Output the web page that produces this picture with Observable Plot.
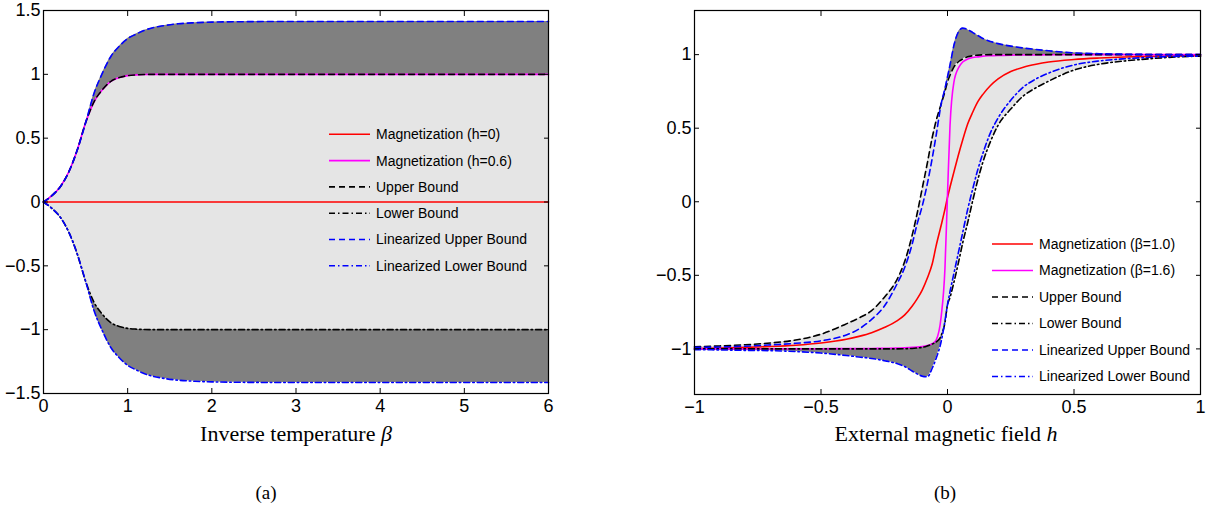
<!DOCTYPE html>
<html><head><meta charset="utf-8">
<script src="https://cdn.jsdelivr.net/npm/d3@7"></script>
<script src="https://cdn.jsdelivr.net/npm/@observablehq/plot@0.6"></script>
<style>
body{margin:0;background:#fff;}
#wrap{position:relative;width:1214px;height:514px;overflow:hidden;background:#fff;}
#wrap > svg{position:absolute;}
</style></head><body><div id="wrap"></div>
<script>
// ---------- Panel (a): versus inverse temperature beta ----------
const betaGrid = [0, 0.1, 0.2, 0.3, 0.4, 0.5, 0.6, 0.7, 0.8, 0.9, 1.0, 1.1, 1.2, 1.3, 1.4, 1.6, 1.8, 2.0, 2.5, 3, 4, 5, 6];
const magnetizationH0 = [0, 0, 0, 0, 0, 0, 0, 0, 0, 0, 0, 0, 0, 0, 0, 0, 0, 0, 0, 0, 0, 0, 0];
const magnetizationH06 = [0, 0.05, 0.12, 0.235, 0.405, 0.62, 0.785, 0.88, 0.945, 0.975, 0.99, 0.996, 0.999, 1, 1, 1, 1, 1, 1, 1, 1, 1, 1];
const upperBoundA = [0, 0.05, 0.12, 0.235, 0.405, 0.62, 0.785, 0.88, 0.945, 0.975, 0.99, 0.996, 0.999, 1, 1, 1, 1, 1, 1, 1, 1, 1, 1];
const lowerBoundA = [0, -0.05, -0.12, -0.235, -0.405, -0.62, -0.785, -0.88, -0.945, -0.975, -0.99, -0.996, -0.999, -1, -1, -1, -1, -1, -1, -1, -1, -1, -1];
const linUpperBoundA = [0, 0.05, 0.12, 0.235, 0.405, 0.62, 0.85, 1.01, 1.14, 1.22, 1.28, 1.315, 1.345, 1.365, 1.378, 1.396, 1.404, 1.409, 1.413, 1.414, 1.414, 1.414, 1.414];
const linLowerBoundA = [0, -0.05, -0.12, -0.235, -0.405, -0.62, -0.85, -1.01, -1.14, -1.22, -1.28, -1.315, -1.345, -1.365, -1.378, -1.396, -1.404, -1.409, -1.413, -1.414, -1.414, -1.414, -1.414];
const xTicksA = [0, 1, 2, 3, 4, 5, 6];
const yTicksA = [-1.5, -1, -0.5, 0, 0.5, 1, 1.5];
const legendLabelsA = ["Magnetization (h=0)", "Magnetization (h=0.6)", "Upper Bound", "Lower Bound", "Linearized Upper Bound", "Linearized Lower Bound"];

// ---------- Panel (b): versus external magnetic field h ----------
const hGrid = [-1, -0.9, -0.8, -0.7, -0.6, -0.5, -0.4, -0.35, -0.3, -0.25,
  -0.2, -0.17, -0.14, -0.12, -0.1, -0.08, -0.06, -0.045, -0.025, -0.01,
  0, 0.01, 0.025, 0.045, 0.06, 0.08, 0.1, 0.12, 0.14, 0.17,
  0.2, 0.25, 0.3, 0.35, 0.4, 0.5, 0.6, 0.7, 0.8, 0.9,
  1];
const magnetizationB10 = [-0.998, -0.995, -0.99, -0.984, -0.975, -0.96, -0.935, -0.915, -0.89, -0.855,
  -0.81, -0.77, -0.71, -0.66, -0.60, -0.52, -0.42, -0.30, -0.16, -0.05,
  0.03, 0.10, 0.20, 0.33, 0.42, 0.53, 0.61, 0.68, 0.73, 0.79,
  0.835, 0.885, 0.915, 0.935, 0.95, 0.967, 0.977, 0.984, 0.988, 0.991,
  0.993];
const magnetizationB16 = [-1, -1, -1, -0.999, -0.999, -0.999, -0.998, -0.998, -0.997, -0.996,
  -0.995, -0.993, -0.99, -0.988, -0.984, -0.977, -0.964, -0.94, -0.78, -0.45,
  0.05, 0.52, 0.81, 0.915, 0.95, 0.97, 0.98, 0.985, 0.99, 0.993,
  0.995, 0.997, 0.998, 0.998, 0.999, 0.999, 1, 1, 1, 1,
  1];
const upperBoundB = [-0.986, -0.98, -0.972, -0.96, -0.94, -0.90, -0.83, -0.79, -0.74, -0.65,
  -0.53, -0.41, -0.23, -0.08, 0.09, 0.26, 0.44, 0.55, 0.665, 0.75,
  0.815, 0.86, 0.915, 0.955, 0.97, 0.985, 0.993, 0.997, 0.999, 1,
  1, 1, 1, 1, 1, 1, 1, 1, 1, 1,
  1];
const lowerBoundB = [-1, -1, -1, -1, -1, -1, -1, -1, -1, -1,
  -1, -0.999, -0.997, -0.994, -0.99, -0.98, -0.967, -0.953, -0.91, -0.82,
  -0.70, -0.65, -0.55, -0.40, -0.28, -0.14, 0.01, 0.15, 0.27, 0.41,
  0.52, 0.63, 0.72, 0.775, 0.82, 0.895, 0.935, 0.957, 0.972, 0.984,
  0.99];
const linUpperBoundB = [-0.99, -0.987, -0.982, -0.973, -0.962, -0.945, -0.905, -0.865, -0.80, -0.71,
  -0.56, -0.45, -0.29, -0.15, -0.03, 0.12, 0.30, 0.45, 0.665, 0.77,
  0.85, 0.93, 1.06, 1.16, 1.18, 1.17, 1.15, 1.13, 1.11, 1.09,
  1.075, 1.058, 1.045, 1.035, 1.026, 1.012, 1.006, 1.003, 1.001, 1.0,
  1.0];
const linLowerBoundB = [-1.005, -1.007, -1.01, -1.012, -1.018, -1.028, -1.045, -1.055, -1.065, -1.08,
  -1.10, -1.12, -1.15, -1.17, -1.185, -1.19, -1.13, -1.065, -0.95, -0.81,
  -0.70, -0.61, -0.49, -0.33, -0.21, -0.05, 0.09, 0.22, 0.33, 0.47,
  0.57, 0.69, 0.78, 0.835, 0.875, 0.93, 0.957, 0.972, 0.982, 0.988,
  0.99];
const xTicksB = [-1, -0.5, 0, 0.5, 1];
const yTicksB = [-1, -0.5, 0, 0.5, 1];
const legendLabelsB = ["Magnetization (\u03b2=1.0)", "Magnetization (\u03b2=1.6)", "Upper Bound", "Lower Bound", "Linearized Upper Bound", "Linearized Lower Bound"];

// ---------- styles ----------
const lineStyles = [
  {stroke: "#ff0000", dash: null},
  {stroke: "#ff00ff", dash: null},
  {stroke: "#000000", dash: "6,4"},
  {stroke: "#000000", dash: "6,3,1.5,3"},
  {stroke: "#0000ff", dash: "6,4"},
  {stroke: "#0000ff", dash: "6,3,1.5,3"}
];
const fmt = d3.format("~g");
const wrap = document.getElementById("wrap");

function panel({xs, series, xDomain, yDomain, xTicks, yTicks, left, width, margins}) {
  series.forEach((s, k) => { if (s.length !== xs.length) throw new Error("length mismatch in series " + k); });
  const rows = xs.map((x, i) => {
    const r = {x};
    series.forEach((s, k) => r["s" + k] = s[i]);
    return r;
  });
  const svg = Plot.plot({
    width, height: 470,
    marginLeft: margins[0], marginRight: margins[1], marginTop: margins[2], marginBottom: margins[3],
    x: {domain: xDomain, label: null},
    y: {domain: yDomain, label: null},
    style: {fontFamily: "'Liberation Sans', Arial, sans-serif", fontSize: "18px", color: "black", background: "transparent", overflow: "visible"},
    marks: [
      Plot.areaY(rows, {x: "x", y1: "s5", y2: "s4", fill: "#808080", curve: "monotone-x"}),
      Plot.areaY(rows, {x: "x", y1: "s3", y2: "s2", fill: "#e5e5e5", curve: "monotone-x"}),
      ...lineStyles.map((st, k) => Plot.line(rows, {x: "x", y: "s" + k, stroke: st.stroke, strokeWidth: 1.6, strokeDasharray: st.dash ?? undefined, curve: "monotone-x"})),
      Plot.frame({stroke: "black", strokeWidth: 1.2}),
      Plot.axisX(xTicks, {anchor: "bottom", tickSize: 0, tickPadding: 6, tickFormat: fmt, fontSize: 18, label: null}),
      Plot.axisX(xTicks, {anchor: "bottom", tickSize: -5, fill: "none", label: null}),
      Plot.axisX(xTicks, {anchor: "top", tickSize: -5, fill: "none", label: null}),
      Plot.axisY(yTicks, {anchor: "left", tickSize: 0, tickPadding: 3, tickFormat: fmt, fontSize: 18, label: null}),
      Plot.axisY(yTicks, {anchor: "left", tickSize: -5, fill: "none", label: null}),
      Plot.axisY(yTicks, {anchor: "right", tickSize: -5, fill: "none", label: null})
    ]
  });
  svg.style.left = left + "px";
  svg.style.top = "0px";
  wrap.appendChild(svg);
}

panel({xs: betaGrid,
  series: [magnetizationH0, magnetizationH06, upperBoundA, lowerBoundA, linUpperBoundA, linLowerBoundA],
  xDomain: [0, 6], yDomain: [-1.5, 1.5], xTicks: xTicksA, yTicks: yTicksA,
  left: 0, width: 560, margins: [43, 12, 10, 77]});

panel({xs: hGrid,
  series: [magnetizationB10, magnetizationB16, upperBoundB, lowerBoundB, linUpperBoundB, linLowerBoundB],
  xDomain: [-1, 1], yDomain: [-1.31, 1.3], xTicks: xTicksB, yTicks: yTicksB,
  left: 600, width: 614, margins: [94, 14, 10, 76]});

// ---------- overlay: legends, axis titles, captions ----------
const ov = d3.select(wrap).append("svg")
  .attr("width", 1214).attr("height", 514)
  .style("left", "0px").style("top", "0px");

function legend(labels, x0, y0, step) {
  const g = ov.append("g");
  labels.forEach((lab, k) => {
    const y = y0 + k * step;
    const st = lineStyles[k];
    g.append("line").attr("x1", x0).attr("x2", x0 + 41).attr("y1", y).attr("y2", y)
      .attr("stroke", st.stroke).attr("stroke-width", 1.6)
      .attr("stroke-dasharray", st.dash);
    g.append("text").attr("x", x0 + 47).attr("y", y).attr("dy", "0.35em")
      .attr("font-family", "'Liberation Sans', Arial, sans-serif").attr("font-size", 14)
      .attr("fill", "#000").text(lab);
  });
}
legend(legendLabelsA, 329, 134.3, 26.3);
legend(legendLabelsB, 992, 244, 26.5);

function title(x, y, main, sym) {
  const t = ov.append("text").attr("x", x).attr("y", y).attr("text-anchor", "middle")
    .attr("font-family", "'Liberation Serif', 'Times New Roman', serif").attr("font-size", 22).attr("fill", "#000");
  t.append("tspan").text(main);
  t.append("tspan").attr("font-style", "italic").text(sym);
}
title(296, 441, "Inverse temperature ", "\u03b2");
title(946, 441, "External magnetic field ", "h");

ov.append("text").attr("x", 266).attr("y", 499).attr("text-anchor", "middle")
  .attr("font-family", "'Liberation Serif', 'Times New Roman', serif").attr("font-size", 19).text("(a)");
ov.append("text").attr("x", 945).attr("y", 499).attr("text-anchor", "middle")
  .attr("font-family", "'Liberation Serif', 'Times New Roman', serif").attr("font-size", 19).text("(b)");
</script></body></html>
